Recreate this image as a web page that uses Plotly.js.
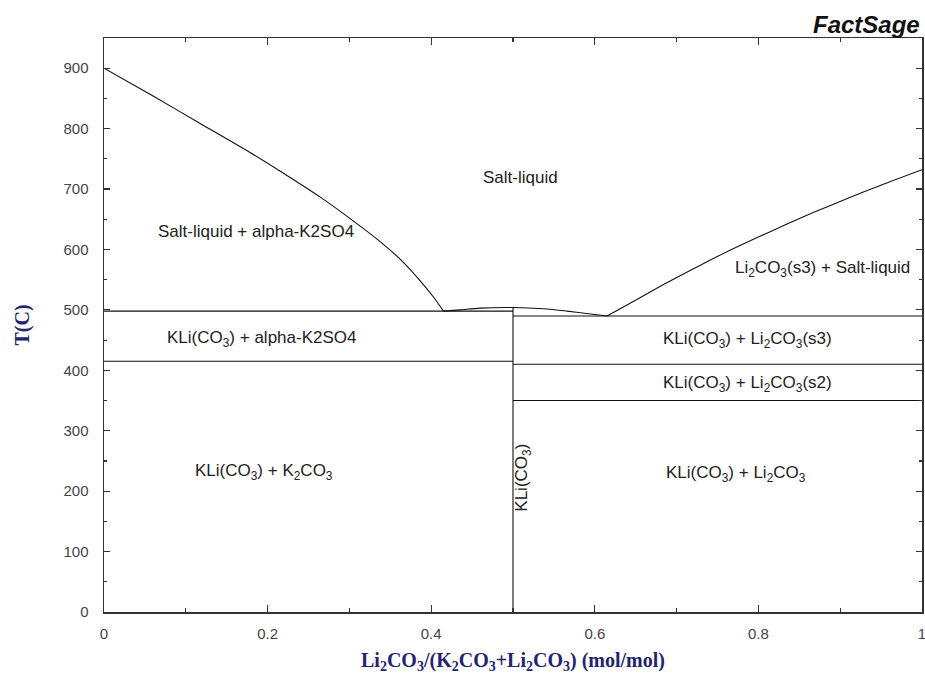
<!DOCTYPE html>
<html>
<head>
<meta charset="utf-8">
<script src="https://cdn.plot.ly/plotly-3.0.1.min.js"></script>
<style>
  html, body { margin: 0; padding: 0; background: #fff; }
  #chart { width: 925px; height: 684px; }
</style>
</head>
<body>
<div id="chart"></div>
<script>
// ---- Data ----
// Liquidus of K2CO3 side (alpha-K2SO4 primary field)
const liqLeftX = [0, 0.060, 0.117, 0.178, 0.215, 0.264, 0.305, 0.333, 0.362, 0.386, 0.403, 0.415];
const liqLeftT = [900, 854, 809, 761, 730, 687, 647, 618, 584, 549, 521, 498];
// Liquidus of Li2CO3 side
const liqRightX = [0.615, 0.647, 0.688, 0.729, 0.761, 0.794, 0.835, 0.867, 0.908, 0.949, 1.0];
const liqRightT = [490, 514, 545, 574, 596, 617, 642, 661, 684, 706, 732];
// Liquidus of KLi(CO3) (dome between the two eutectics)
const domeX = [0.415, 0.435, 0.460, 0.500, 0.537, 0.566, 0.590, 0.615];
const domeT = [498, 500, 503, 504, 502, 498, 494, 490];
// Isotherms (invariant lines)
const isoStartX = [0, 0, 0.5, 0.5, 0.5];
const isoEndX = [0.5, 0.5, 1, 1, 1];
const isoT = [498, 415, 490, 410, 350];
// Compound KLi(CO3) line
const compoundX = 0.5;
const compoundT = [0, 504];

// Region labels
const labelText = [
  'Salt-liquid',
  'Salt-liquid + alpha-K2SO4',
  'Li<sub>2</sub>CO<sub>3</sub>(s3) + Salt-liquid',
  'KLi(CO<sub>3</sub>) + alpha-K2SO4',
  'KLi(CO<sub>3</sub>) + Li<sub>2</sub>CO<sub>3</sub>(s3)',
  'KLi(CO<sub>3</sub>) + Li<sub>2</sub>CO<sub>3</sub>(s2)',
  'KLi(CO<sub>3</sub>) + K<sub>2</sub>CO<sub>3</sub>',
  'KLi(CO<sub>3</sub>) + Li<sub>2</sub>CO<sub>3</sub>',
  'KLi(CO<sub>3</sub>)'
];
const labelX = [0.509, 0.186, 0.878, 0.192, 0.787, 0.787, 0.196, 0.773, 0.512];
const labelT = [719, 630, 567, 452, 451, 378, 232, 229, 222];
const labelAngle = [0, 0, 0, 0, 0, 0, 0, 0, -90];

// Axis ticks
const xTickVals = [0, 0.2, 0.4, 0.6, 0.8, 1];
const xTickText = ['0', '0.2', '0.4', '0.6', '0.8', '1'];
const xMinorVals = [0.1, 0.3, 0.5, 0.7, 0.9];
const yTickVals = [0, 100, 200, 300, 400, 500, 600, 700, 800, 900];
const yTickText = ['0', '100', '200', '300', '400', '500', '600', '700', '800', '900'];
const yMinorVals = [50, 150, 250, 350, 450, 550, 650, 750, 850];

// ---- Build traces ----
const lineStyle = { color: '#111', width: 1.1 };
const curveStyle = { color: '#111', width: 1.1, shape: 'spline', smoothing: 0.8 };
const traces = [];
traces.push({ x: liqLeftX, y: liqLeftT, mode: 'lines', line: curveStyle, hoverinfo: 'skip' });
traces.push({ x: liqRightX, y: liqRightT, mode: 'lines', line: curveStyle, hoverinfo: 'skip' });
traces.push({ x: domeX, y: domeT, mode: 'lines', line: curveStyle, hoverinfo: 'skip' });
for (let i = 0; i < isoT.length; i++) {
  traces.push({ x: [isoStartX[i], isoEndX[i]], y: [isoT[i], isoT[i]], mode: 'lines', line: lineStyle, hoverinfo: 'skip' });
}
traces.push({ x: [compoundX, compoundX], y: compoundT, mode: 'lines', line: lineStyle, hoverinfo: 'skip' });

const annotations = labelText.map((t, i) => ({
  x: labelX[i], y: labelT[i], xref: 'x', yref: 'y', text: t, showarrow: false,
  textangle: labelAngle[i],
  font: { family: 'Liberation Sans, Arial, sans-serif', size: 17, color: '#222' }
}));
annotations.push({
  x: 1, y: 1, xref: 'paper', yref: 'paper', xanchor: 'right', yanchor: 'bottom', yshift: -2,
  text: '<b><i>FactSage</i></b>', showarrow: false,
  font: { family: 'Liberation Sans, Arial, sans-serif', size: 24, color: '#111' }
});

const titleFont = { family: 'Liberation Serif, Times New Roman, serif', size: 20, color: '#23236e' };
const tickFont = { family: 'Liberation Sans, Arial, sans-serif', size: 15, color: '#444' };

const layout = {
  width: 925, height: 684,
  margin: { l: 104, r: 3, t: 38, b: 72 },
  paper_bgcolor: '#fff', plot_bgcolor: '#fff',
  showlegend: false,
  xaxis: {
    range: [0, 1], tickvals: xTickVals, ticktext: xTickText,
    showgrid: false, zeroline: false,
    showline: true, linecolor: '#333', linewidth: 1.5, mirror: 'ticks',
    ticks: 'inside', ticklen: 7, tickcolor: '#333', tickwidth: 1.2,
    minor: { tickvals: xMinorVals, ticks: 'inside', ticklen: 4, tickcolor: '#333', showgrid: false },
    tickfont: tickFont, ticklabelstandoff: 7, ticklabeloverflow: 'allow',
    title: { text: '<b>Li<sub>2</sub>CO<sub>3</sub>/(K<sub>2</sub>CO<sub>3</sub>+Li<sub>2</sub>CO<sub>3</sub>) (mol/mol)</b>', font: titleFont, standoff: 12 },
    automargin: false, fixedrange: true
  },
  yaxis: {
    range: [0, 950], tickvals: yTickVals, ticktext: yTickText,
    showgrid: false, zeroline: false,
    showline: true, linecolor: '#333', linewidth: 1.5, mirror: 'ticks',
    ticks: 'inside', ticklen: 6, tickcolor: '#333', tickwidth: 1.2,
    minor: { tickvals: yMinorVals, ticks: 'inside', ticklen: 3, tickcolor: '#333', showgrid: false },
    tickfont: tickFont, ticklabelstandoff: 11, ticklabeloverflow: 'allow',
    title: { text: '<b>T(C)</b>', font: titleFont, standoff: 28 },
    automargin: false, fixedrange: true
  },
  annotations: annotations
};

Plotly.newPlot('chart', traces, layout, { displayModeBar: false, staticPlot: true });
</script>
</body>
</html>
